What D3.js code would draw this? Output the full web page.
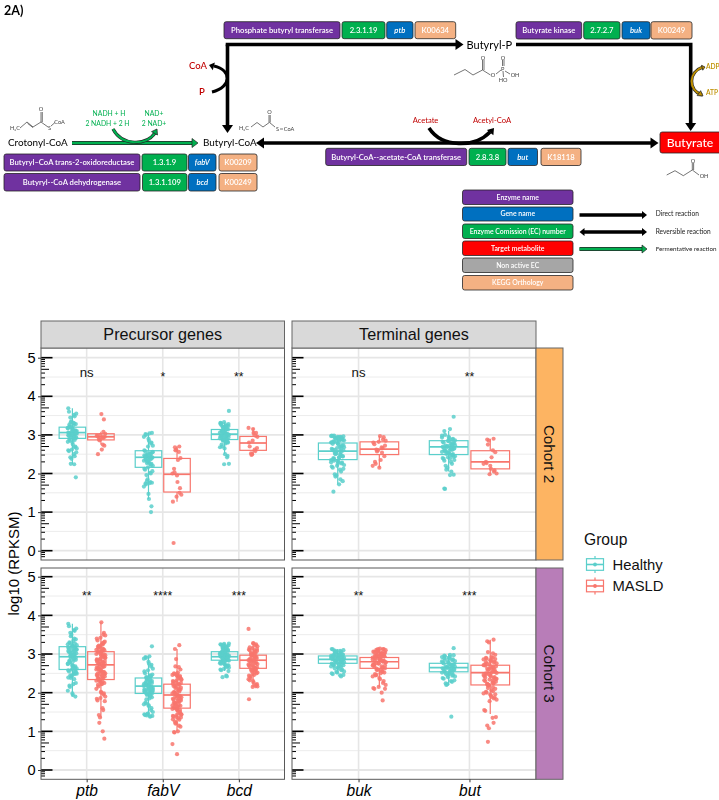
<!DOCTYPE html>
<html><head><meta charset="utf-8">
<style>html,body{margin:0;padding:0;background:#fff;overflow:hidden}svg{display:block}</style>
<script src="https://cdn.jsdelivr.net/npm/d3@7"></script></head><body><div id="c"></div>
<script>
// ---------- chart data ----------
const precursorGenes=["ptb","fabV","bcd"], terminalGenes=["buk","but"], groups=["Healthy","MASLD"];
const yTicks=[0,1,2,3,4,5];
// Cohort 2 sample values (log10 RPKSM)
const c2_ptb_H=[3.69,3.6,3.55,3.52,3.48,3.45,3.35,3.33,3.3,3.28,3.25,3.22,3.2,3.18,3.16,3.14,3.12,3.1,3.1,3.08,3.06,3.05,3.04,3.02,3.0,3.0,2.98,2.96,2.95,2.92,2.9,2.88,2.85,2.82,2.8,2.75,2.7,2.68,2.65,2.62,2.6,2.58,2.55,2.5,2.45,2.42,2.38,2.25,2.24,1.9,3.31,3.27,3.21,3.17,3.13,3.11,3.09,3.07,3.03,3.01,2.99,2.97,2.93,2.91,2.87];
const c2_ptb_M=[3.54,3.4,3.08,3.03,3.0,2.98,2.97,2.95,2.94,2.92,2.9,2.88,2.86,2.75,2.72,2.62,2.5];
const c2_fabV_H=[3.05,3.04,3.02,3.0,2.95,2.9,2.85,2.8,2.78,2.72,2.7,2.6,2.58,2.55,2.52,2.5,2.48,2.46,2.45,2.43,2.42,2.4,2.38,2.36,2.33,2.3,2.28,2.25,2.22,2.2,2.16,2.12,2.1,2.06,2.02,2.0,1.96,1.85,1.8,1.78,1.76,1.75,1.74,1.72,1.66,1.47,1.34,1.15,1.0,2.56,2.53,2.47,2.44,2.41,2.39,2.37,2.35,2.31,2.27,2.24];
const c2_fabV_M=[2.7,2.68,2.62,2.6,2.56,2.4,2.35,2.12,2.03,2.0,1.95,1.78,1.62,1.5,1.45,1.4,1.27,0.2];
const c2_bcd_H=[3.62,3.33,3.31,3.3,3.28,3.25,3.24,3.22,3.2,3.18,3.16,3.14,3.12,3.1,3.08,3.06,3.05,3.04,3.02,3.0,3.0,2.98,2.96,2.95,2.93,2.92,2.9,2.88,2.86,2.85,2.82,2.8,2.78,2.75,2.7,2.68,2.65,2.5,2.46,2.42,2.25,2.24,3.29,3.26,3.23,3.19,3.15,3.11,3.09,3.07,3.03,3.01,2.99,2.97,2.94,2.91,2.89,2.87,2.83,2.81];
const c2_bcd_M=[3.18,3.15,3.05,3.05,2.98,2.95,2.85,2.8,2.7,2.66,2.62,2.58,2.52,2.5,2.48];
const c2_buk_H=[2.98,2.97,2.96,2.95,2.94,2.93,2.92,2.9,2.88,2.87,2.85,2.83,2.82,2.8,2.78,2.75,2.72,2.7,2.68,2.66,2.64,2.62,2.6,2.58,2.56,2.54,2.52,2.5,2.48,2.45,2.42,2.4,2.38,2.35,2.32,2.3,2.28,2.26,2.22,2.2,2.18,2.15,2.12,2.1,2.05,1.98,1.95,1.92,1.85,1.8,1.72,1.53,2.98,2.97,2.95,2.93,2.91,2.89,2.86,2.84,2.81,2.77,2.73,2.69,2.65,2.61,2.57,2.53,2.49,2.44,2.41,2.37,2.33,2.29,2.25];
const c2_buk_M=[2.97,2.94,2.88,2.85,2.82,2.8,2.76,2.72,2.68,2.66,2.62,2.6,2.57,2.54,2.45,2.35,2.3,2.25,2.2,2.15];
const c2_but_H=[3.47,3.15,3.1,3.0,2.98,2.95,2.92,2.9,2.88,2.86,2.84,2.82,2.8,2.78,2.76,2.74,2.72,2.7,2.68,2.66,2.64,2.62,2.6,2.58,2.56,2.54,2.52,2.5,2.48,2.45,2.42,2.4,2.38,2.35,2.3,2.25,2.2,2.15,2.1,2.05,1.97,1.96,1.61,1.6,2.93,2.87,2.83,2.79,2.75,2.73,2.71,2.69,2.67,2.65,2.63,2.61,2.59,2.55,2.51,2.47,2.43,2.39,2.33];
const c2_but_M=[2.9,2.88,2.85,2.75,2.6,2.55,2.42,2.3,2.27,2.25,2.2,2.12,2.08,2.05,2.0,1.98];
// Cohort 3 sample values (log10 RPKSM)
const c3_ptb_H=[3.78,3.72,3.66,3.62,3.6,3.55,3.5,3.46,3.4,3.38,3.34,3.3,3.28,3.25,3.22,3.2,3.18,3.15,3.12,3.1,3.08,3.05,3.02,3.0,2.98,2.95,2.93,2.9,2.88,2.85,2.82,2.8,2.78,2.75,2.72,2.7,2.68,2.65,2.62,2.6,2.58,2.55,2.52,2.5,2.48,2.45,2.42,2.38,2.35,2.25,2.22,2.18,2.15,2.05,1.98,1.94,1.9,3.27,3.23,3.19,3.17,3.14,3.11,3.09,3.06,3.03,3.01,2.97,2.94,2.91,2.87,2.83,2.79,2.74,2.69,2.64,2.59,2.54,2.49,2.44,2.39];
const c3_ptb_M=[3.82,3.55,3.5,3.48,3.42,3.4,3.35,3.32,3.28,3.26,3.22,3.2,3.18,3.14,3.1,3.08,3.06,3.04,3.0,2.98,2.96,2.94,2.92,2.9,2.88,2.86,2.84,2.82,2.8,2.78,2.76,2.74,2.72,2.7,2.68,2.66,2.64,2.62,2.6,2.58,2.56,2.54,2.52,2.5,2.48,2.46,2.44,2.42,2.4,2.38,2.36,2.33,2.3,2.28,2.25,2.22,2.2,2.16,2.1,2.02,2.0,1.98,1.95,1.9,1.86,1.84,1.8,1.78,1.6,1.55,1.42,1.36,1.22,1.0,0.81,3.24,3.19,3.15,3.11,3.07,3.03,2.99,2.95,2.91,2.87,2.83,2.79,2.75,2.71,2.67,2.63,2.59,2.55,2.51,2.47,2.43,2.39,2.35,2.31,2.27,2.23,3.3,3.12,2.97,2.81,2.65,2.49];
const c3_fabV_H=[3.2,2.94,2.92,2.9,2.88,2.8,2.75,2.72,2.68,2.62,2.58,2.55,2.5,2.47,2.45,2.42,2.4,2.38,2.35,2.33,2.3,2.28,2.26,2.24,2.22,2.2,2.18,2.16,2.14,2.12,2.1,2.08,2.06,2.04,2.02,2.0,1.98,1.96,1.94,1.9,1.88,1.85,1.75,1.72,1.7,1.68,1.65,1.6,1.55,1.5,1.46,1.44,1.42,1.4,1.38,2.43,2.39,2.36,2.32,2.29,2.25,2.23,2.21,2.19,2.17,2.15,2.13,2.11,2.09,2.07,2.05,2.03,2.01,1.99,1.97,1.92,1.83,1.45,1.41,1.39];
const c3_fabV_M=[3.23,3.13,2.87,2.68,2.66,2.6,2.52,2.5,2.48,2.46,2.44,2.42,2.4,2.38,2.35,2.32,2.3,2.28,2.25,2.22,2.2,2.18,2.15,2.12,2.1,2.08,2.05,2.02,2.0,1.98,1.96,1.94,1.92,1.9,1.88,1.86,1.84,1.82,1.8,1.78,1.76,1.74,1.72,1.7,1.68,1.66,1.64,1.62,1.6,1.58,1.56,1.54,1.5,1.46,1.44,1.42,1.4,1.38,1.36,1.34,1.3,1.25,1.22,1.2,1.15,1.12,1.0,0.98,0.97,0.67,0.41,2.47,2.43,2.37,2.33,2.27,2.23,2.17,2.13,2.07,2.03,1.99,1.95,1.91,1.87,1.83,1.79,1.75,1.71,1.67,1.63,1.59,1.55,1.49,1.43,1.37,1.31];
const c3_bcd_H=[3.27,3.26,3.25,3.24,3.22,3.2,3.18,3.16,3.14,3.12,3.1,3.08,3.06,3.05,3.04,3.02,3.0,3.0,2.98,2.97,2.96,2.95,2.94,2.93,2.92,2.91,2.9,2.88,2.87,2.86,2.85,2.84,2.82,2.8,2.78,2.76,2.74,2.72,2.7,2.68,2.65,2.62,2.6,2.58,2.56,2.44,2.42,2.4,3.23,3.19,3.15,3.11,3.07,3.03,3.01,2.99,2.96,2.94,2.92,2.89,2.83,2.81,2.79,2.75,2.71,2.67];
const c3_bcd_M=[3.65,3.28,3.27,3.25,3.22,3.2,3.15,3.12,3.1,3.08,3.05,3.02,3.0,2.98,2.96,2.94,2.92,2.9,2.88,2.86,2.84,2.82,2.8,2.78,2.76,2.74,2.72,2.7,2.68,2.66,2.64,2.62,2.6,2.58,2.56,2.54,2.5,2.46,2.42,2.38,2.35,2.3,2.26,2.2,2.17,2.16,2.15,1.83,3.17,3.13,3.09,3.06,3.03,2.99,2.97,2.93,2.89,2.85,2.81,2.77,2.73,2.69,2.65,2.61,2.57,2.52,2.48,2.44,2.32,2.22];
const c3_buk_H=[3.13,3.12,3.1,3.08,3.06,3.05,3.04,3.02,3.0,2.99,2.98,2.97,2.96,2.95,2.94,2.93,2.92,2.91,2.9,2.89,2.88,2.87,2.86,2.85,2.84,2.83,2.82,2.8,2.78,2.76,2.74,2.72,2.7,2.68,2.65,2.62,2.6,2.58,2.55,2.52,2.5,2.48,2.46,2.45,2.42,3.09,3.07,3.03,3.01,2.98,2.96,2.94,2.92,2.9,2.88,2.86,2.84,2.81,2.79,2.77,2.75,2.73,2.71,2.69,2.67,2.63,2.54];
const c3_buk_M=[3.14,3.13,3.12,3.1,3.08,3.06,3.05,3.04,3.02,3.0,2.98,2.97,2.96,2.95,2.94,2.92,2.9,2.88,2.86,2.85,2.84,2.82,2.8,2.78,2.76,2.74,2.72,2.7,2.68,2.65,2.62,2.6,2.58,2.55,2.52,2.5,2.48,2.45,2.42,2.38,2.35,2.3,2.25,2.2,2.15,2.12,2.1,2.1,2.0,1.8,3.11,3.09,3.07,3.03,3.01,2.99,2.96,2.93,2.91,2.89,2.87,2.83,2.81,2.79,2.75,2.71,2.67,2.63,2.59,2.54,2.46,3.13,3.06,3.0,2.94,2.88,2.82,2.76,2.7];
const c3_but_H=[3.15,2.98,2.96,2.94,2.92,2.9,2.88,2.86,2.84,2.82,2.8,2.78,2.76,2.74,2.72,2.7,2.68,2.66,2.64,2.62,2.6,2.58,2.56,2.54,2.52,2.5,2.48,2.46,2.44,2.42,2.4,2.38,2.36,2.32,2.3,2.28,2.24,2.22,2.2,1.38,2.97,2.93,2.89,2.85,2.81,2.77,2.73,2.71,2.69,2.67,2.65,2.63,2.61,2.59,2.57,2.53,2.49,2.45];
const c3_but_M=[3.37,3.33,3.3,3.05,3.02,2.98,2.92,2.9,2.88,2.86,2.84,2.82,2.8,2.78,2.76,2.74,2.72,2.7,2.68,2.66,2.64,2.62,2.6,2.58,2.56,2.54,2.52,2.5,2.48,2.46,2.44,2.42,2.4,2.38,2.36,2.34,2.32,2.3,2.28,2.26,2.24,2.22,2.2,2.18,2.14,2.1,2.06,2.02,2.0,1.98,1.95,1.92,1.88,1.85,1.82,1.78,1.55,1.53,1.37,1.35,1.22,1.15,1.08,0.73,2.91,2.87,2.83,2.79,2.75,2.71,2.67,2.63,2.59,2.55,2.51,2.47,2.43,2.39,2.35,2.31,2.27,2.23,2.19,2.12,2.04,1.96,1.89];
// box statistics [low whisker, q1, median, q3, high whisker]
const stat_c2_ptb_H=[2.24,2.91,3.06,3.2,3.69],stat_c2_ptb_M=[2.75,2.87,2.95,3.03,3.08];
const stat_c2_fabV_H=[1.34,2.16,2.42,2.59,3.05],stat_c2_fabV_M=[1.27,1.52,1.98,2.39,2.7];
const stat_c2_bcd_H=[2.5,2.88,3.02,3.14,3.33],stat_c2_bcd_M=[2.48,2.6,2.79,2.96,3.18];
const stat_c2_buk_H=[1.72,2.36,2.58,2.79,2.98],stat_c2_buk_M=[2.15,2.49,2.63,2.82,2.97];
const stat_c2_but_H=[2.05,2.49,2.69,2.85,3.1],stat_c2_but_M=[1.98,2.12,2.3,2.59,2.9];
const stat_c3_ptb_H=[1.9,2.6,2.93,3.19,3.78],stat_c3_ptb_M=[1.35,2.34,2.72,3.06,3.82];
const stat_c3_fabV_H=[1.38,1.98,2.17,2.38,2.94],stat_c3_fabV_M=[1.0,1.6,1.94,2.22,3.13];
const stat_c3_bcd_H=[2.56,2.84,2.93,3.06,3.27],stat_c3_bcd_M=[2.15,2.63,2.84,2.97,3.28];
const stat_c3_buk_H=[2.48,2.76,2.86,2.95,3.13],stat_c3_buk_M=[2.15,2.63,2.8,2.91,3.14];
const stat_c3_but_H=[2.2,2.54,2.65,2.76,3.0],stat_c3_but_M=[1.45,2.2,2.52,2.71,3.37];
// significance labels
const sigC2=["ns","*","**","ns","**"], sigC3=["**","****","***","**","***"];
const sigLevel=4.6;
const cohorts=["Cohort 2","Cohort 3"], facets=["Precursor genes","Terminal genes"];

// ---------- palette ----------
const groupColor=d3.scaleOrdinal(groups,["#5bcfcb","#f8766d"]);
const C={purple:"#7030a0",green:"#00b050",blue:"#0070c0",red:"#ff0000",gray:"#a6a6a6",peach:"#f4b183",dred:"#c00000",gold:"#bf9000"};
const jitterCycle=[-.9,.35,-.2,.75,-.55,.1,.95,-.75,.5,-.35,.2,-1,.65,-.1,.85,-.45,.4,-.65,0,.55];

const W=719,H=800;
const svg=d3.select("#c").append("svg").attr("width",W).attr("height",H).attr("viewBox",[0,0,W,H]);
svg.append("defs").append("filter").attr("id","soft").attr("x","-5%").attr("y","-5%").attr("width","110%").attr("height","110%")
   .append("feGaussianBlur").attr("stdDeviation",.38);
const F="Lato, 'Open Sans', sans-serif", A="'Liberation Sans', Arial, sans-serif";

// ---------- pathway diagram ----------
const dg=svg.append("g").attr("filter","url(#soft)");
function pill(x0,x1,y0,y1,fill,label,opt={}){
  dg.append("rect").attr("x",x0).attr("y",y0).attr("width",x1-x0).attr("height",y1-y0).attr("rx",2.2)
    .attr("fill",fill).attr("stroke","#262626").attr("stroke-width",.8);
  dg.append("text").attr("x",opt.tx||(x0+x1)/2).attr("y",(y0+y1)/2).attr("dy","0.35em").attr("text-anchor","middle")
    .attr("fill","#fff").attr("font-family",F).attr("font-size",opt.size||7.7).attr("font-weight",opt.weight||600)
    .attr("font-style",opt.italic?"italic":"normal").text(label);
}
function label(x,y,t,fill,size,anchor="middle",weight=400){
  dg.append("text").attr("x",x).attr("y",y).attr("dy","0.35em").attr("text-anchor",anchor).attr("fill",fill)
    .attr("font-family",F).attr("font-size",size).attr("font-weight",weight).text(t);
}
function head(x,y,ang,fill,stroke,L=8,Wd=5.5){
  dg.append("path").attr("d",`M0,0L${-L},${-Wd}L${-L},${Wd}Z`).attr("transform",`translate(${x},${y}) rotate(${ang})`)
    .attr("fill",fill).attr("stroke",stroke||"none").attr("stroke-width",.7);
}
function line(pts,color,w){
  dg.append("path").attr("d",d3.line()(pts)).attr("fill","none").attr("stroke",color).attr("stroke-width",w);
}
function curve(d,color,w,outline){
  if(outline) dg.append("path").attr("d",d).attr("fill","none").attr("stroke",outline).attr("stroke-width",w+1.2);
  dg.append("path").attr("d",d).attr("fill","none").attr("stroke",color).attr("stroke-width",w);
}
label(4,10.5,"2A)","#000",12.5,"start",700);

pill(224,340,21.7,38.7,C.purple,"Phosphate butyryl transferase");
pill(342,385,21.7,38.7,C.green,"2.3.1.19");
pill(386.7,413,21.7,38.7,C.blue,"ptb",{italic:1});
pill(415,455.7,21.7,38.7,C.peach,"K00634");
pill(516,581.7,21.7,39,C.purple,"Butyrate kinase");
pill(583.7,620,21.7,39,C.green,"2.7.2.7");
pill(622,650,21.7,39,C.blue,"buk",{italic:1});
pill(651,692,21.7,39,C.peach,"K00249");
pill(4,140,154,171,C.purple,"Butyryl\u2013CoA trans-2-oxidoreductase");
pill(142,187,154,171,C.green,"1.3.1.9");
pill(188.5,216,154,171,C.blue,"fabV",{italic:1});
pill(219,257,154,171,C.peach,"K00209");
pill(4,140,173.5,191,C.purple,"Butyryl--CoA dehydrogenase");
pill(142.5,187,173.5,191,C.green,"1.3.1.109");
pill(188.5,216,173.5,191,C.blue,"bcd",{italic:1});
pill(219,257,173.5,191,C.peach,"K00249");
pill(325.7,466.7,148.3,165.5,C.purple,"Butyryl-CoA--acetate-CoA transferase");
pill(469,506,148.3,165.5,C.green,"2.8.3.8");
pill(508,537.5,148.3,165.5,C.blue,"but",{italic:1});
pill(541,581,148.3,165.5,C.peach,"K18118");
pill(660,722,132,153,C.red,"Butyrate",{size:12.2,weight:500,tx:690});

// main reaction arrows
line([[72,143],[192,143]],"#262626",4); line([[72,143],[192,143]],C.green,2.6); head(198,143,0,C.green,"#262626",6,4.5);
line([[262,143],[652,143]],"#000",3.6); head(256,143,180,"#000"); head(658.5,143,0,"#000");
line([[227.5,44.5],[227.5,126]],"#000",3.6); line([[225.7,44.5],[458,44.5]],"#000",3.6); head(227.5,133,90,"#000"); head(463.5,44.5,0,"#000");
line([[516,44.5],[690.7,44.5],[690.7,124]],"#000",3.6); head(690.7,131,90,"#000");

// cofactors
curve("M212,92 C232,87 232,70 214,66","#000",3); head(209,65,195,"#000",null,5,4);
curve("M113,129 C122,146 146,146 155,133",C.green,2,"#262626"); head(157,129,-60,C.green,"#262626",5,3.4);
curve("M429,128 C442,148 475,148 490,132","#000",3.6); head(494,128,-50,"#000",null,6,4.2);
curve("M703,67 C688,72 688,90 702,95",C.gold,2,"#262626"); head(705,67,-15,C.gold,"#262626",3,2.5); head(703,96,35,C.gold,"#262626",5,3);

label(8,143,"Crotonyl-CoA","#000",9.9,"start");
label(203,143,"Butyryl-CoA","#000",9.9,"start");
label(466.5,45.5,"Butyryl-P","#000",11,"start");
label(189,65.5,"CoA",C.dred,9.5,"start",500);
label(199,92,"P",C.dred,9.5,"start",600);
label(109,114,"NADH + H",C.green,6.8);
label(107.5,124,"2 NADH + 2 H",C.green,6.8);
label(154,114,"NAD+",C.green,6.8);
label(154,124,"2 NAD+",C.green,6.8);
label(425.5,120,"Acetate",C.dred,7.6);
label(492,120,"Acetyl-CoA",C.dred,7.6);
label(706,67,"ADP",C.gold,6.6,"start",600);
label(706,93,"ATP",C.gold,6.6,"start",600);

// skeletal structures
const bond="#3a3a3a";
function mol(pts){line(pts,bond,.7)}
mol([[20,128],[27,122],[33,127],[41,122]]); mol([[27.5,123.3],[33,127.6]]); mol([[41,122],[41,112]]); mol([[42.3,122],[42.3,112]]);mol([[41,122],[48,127]]); mol([[51,126],[55,122.5]]);
label(15,128,"H\u2083C",bond,5.6); label(41,109.5,"O",bond,5.6); label(49.5,128,"S",bond,5.6); label(59.5,122,"CoA",bond,5.6);
mol([[251,127],[257,122.5],[263,127],[269.3,122.5]]); mol([[269,122.5],[269,115]]); mol([[270.2,122.5],[270.2,115]]); mol([[269.5,122.5],[275,127]]); mol([[280,129],[283,129]]);
label(244,128.5,"H\u2083C",bond,5.6); label(269.5,112.5,"O",bond,5.6); label(277.5,129,"S",bond,5.6); label(289,129,"CoA",bond,5.6);
mol([[454,75],[465,69.5],[473,75],[482.5,70]]); mol([[482.5,70],[482.5,60]]); mol([[484,70],[484,60]]); mol([[482.5,70],[490.5,75]]);
mol([[496,74],[501,70]]); mol([[502.5,66],[502.5,60]]); mol([[504,66],[504,60]]); mol([[505,71],[510,74]]); mol([[503,71],[503.5,77]]);
label(483,58,"O",bond,5.6); label(493,75,"O",bond,5.6); label(502.8,69,"P",bond,5.6); label(503,58,"O",bond,5.6); label(515,75,"OH",bond,5.6); label(503,80.5,"HO",bond,5.6);
mol([[666.7,175],[675,170.7],[683.3,175.7],[692.3,170]]); mol([[692.3,170],[692.3,163]]); mol([[693.6,170],[693.6,163]]); mol([[692.3,170],[699,175]]);
label(693,160.7,"O",bond,5.6); label(704,176.5,"OH",bond,5.6);

// diagram key
const keyRows=[["Enzyme name",C.purple,190,204.5],["Gene name",C.blue,207,221],["Enzyme Comission (EC) number",C.green,224,238.5],["Target metabolite",C.red,241,255.5],["Non active EC",C.gray,258,272.5],["KEGG Orthology",C.peach,275.5,290]];
keyRows.forEach(r=>pill(462.5,573,r[2],r[3],r[1],r[0],{size:6.9}));
line([[579.5,215],[642,215]],"#000",3.4); head(647,215,0,"#000",null,5,4);
line([[584,232],[642,232]],"#000",3.4); head(579.5,232,180,"#000",null,5,4); head(647,232,0,"#000",null,5,4);
line([[579.5,249],[642,249]],"#262626",3.8); line([[579.5,249],[642,249]],C.green,2.4); head(647,249,0,C.green,"#262626",5,4);
label(655.7,213.5,"Direct reaction","#222",6.6,"start");
label(655.7,232,"Reversible reaction","#222",6.6,"start");
label(655.7,249,"Fermentative reaction","#222",6.3,"start");

// ---------- faceted box plots ----------
const row=[{cohort:0,top:348,bottom:560,y5:357.7,y0:550.7,sig:sigC2,fill:"#fdb462",ds:"c2"},
           {cohort:1,top:568,bottom:779.3,y5:576.7,y0:770,sig:sigC3,fill:"#b87db8",ds:"c3"}];
const col=[{facet:0,x0:41,x1:284.5,genes:precursorGenes,off:0},{facet:1,x0:292,x1:536,genes:terminalGenes,off:3}];
const dataset={c2:{ptb:[c2_ptb_H,c2_ptb_M],fabV:[c2_fabV_H,c2_fabV_M],bcd:[c2_bcd_H,c2_bcd_M],buk:[c2_buk_H,c2_buk_M],but:[c2_but_H,c2_but_M]},
               c3:{ptb:[c3_ptb_H,c3_ptb_M],fabV:[c3_fabV_H,c3_fabV_M],bcd:[c3_bcd_H,c3_bcd_M],buk:[c3_buk_H,c3_buk_M],but:[c3_but_H,c3_but_M]}};
const stats={c2:{ptb:[stat_c2_ptb_H,stat_c2_ptb_M],fabV:[stat_c2_fabV_H,stat_c2_fabV_M],bcd:[stat_c2_bcd_H,stat_c2_bcd_M],buk:[stat_c2_buk_H,stat_c2_buk_M],but:[stat_c2_but_H,stat_c2_but_M]},
             c3:{ptb:[stat_c3_ptb_H,stat_c3_ptb_M],fabV:[stat_c3_fabV_H,stat_c3_fabV_M],bcd:[stat_c3_bcd_H,stat_c3_bcd_M],buk:[stat_c3_buk_H,stat_c3_buk_M],but:[stat_c3_but_H,stat_c3_but_M]}};
const plot=svg.append("g");
const minorPos=d3.range(-1,6).flatMap(d=>[2,3,4,5,6,7,8,9].map(m=>({v:d+Math.log10(m),m})));

row.forEach(R=>{
  const y=d3.scaleLinear().domain([0,5]).range([R.y0,R.y5]);
  col.forEach(Cn=>{
    const w=Cn.x1-Cn.x0;
    const x=d3.scalePoint().domain(Cn.genes).range([Cn.x0,Cn.x1]).padding(.6);
    const step=x.step(), dodge=d3.scaleBand().domain(groups).range([-step*.375,step*.375]);
    const jw=step*.06;
    const g=plot.append("g");
    g.append("rect").attr("x",Cn.x0).attr("y",R.top).attr("width",w).attr("height",R.bottom-R.top).attr("fill","#fff");
    // grid
    const minor=d3.range(0,5).map(d=>d+.5);
    g.selectAll(".mn").data(minor).join("line").attr("x1",Cn.x0).attr("x2",Cn.x1).attr("y1",y).attr("y2",y).attr("stroke","#ececec").attr("stroke-width",1);
    g.selectAll(".mj").data(yTicks).join("line").attr("x1",Cn.x0).attr("x2",Cn.x1).attr("y1",y).attr("y2",y).attr("stroke","#e6e6e6").attr("stroke-width",1.8);
    g.selectAll(".vg").data(Cn.genes).join("line").attr("x1",x).attr("x2",x).attr("y1",R.top).attr("y2",R.bottom).attr("stroke","#e6e6e6").attr("stroke-width",1.6);
    // log ticks
    const inRange=v=>y(v)>R.top+1&&y(v)<R.bottom-1;
    const ticks=[...yTicks.map(v=>({v,len:11.5,sw:1.6})),...minorPos.filter(d=>inRange(d.v)).map(d=>({v:d.v,len:d.m===5?8:4,sw:1}))];
    g.selectAll(".lt").data(ticks).join("line").attr("x1",Cn.x0).attr("x2",d=>Cn.x0+d.len).attr("y1",d=>y(d.v)).attr("y2",d=>y(d.v)).attr("stroke","#000").attr("stroke-width",d=>d.sw);
    // boxes and points
    Cn.genes.forEach((gene,gi)=>{
      const xc=x(gene);
      groups.forEach((grp,k)=>{
        const cx=xc+dodge(grp)+dodge.bandwidth()/2, bw=dodge.bandwidth()*.93, col_=groupColor(grp);
        const s=stats[R.ds][gene][k], vals=dataset[R.ds][gene][k];
        const bx=g.append("g").attr("stroke",col_).attr("fill","none").attr("stroke-width",1.2);
        bx.append("line").attr("x1",cx).attr("x2",cx).attr("y1",y(s[0])).attr("y2",y(s[1]));
        bx.append("line").attr("x1",cx).attr("x2",cx).attr("y1",y(s[3])).attr("y2",y(s[4]));
        bx.append("rect").attr("x",cx-bw/2).attr("width",bw).attr("y",y(s[3])).attr("height",y(s[1])-y(s[3]));
        bx.append("line").attr("x1",cx-bw/2).attr("x2",cx+bw/2).attr("y1",y(s[2])).attr("y2",y(s[2])).attr("stroke-width",1.7);
        g.selectAll(null).data(vals).join("circle").attr("cx",(d,i)=>cx+jitterCycle[(i*7+gi*3+k*5)%jitterCycle.length]*jw).attr("cy",d=>y(d)).attr("r",2.1).attr("fill",col_).attr("fill-opacity",.85);
      });
      const sl=R.sig[gi+Cn.off];
      g.append("text").attr("x",xc).attr("y",y(sigLevel)).attr("dy",sl==="ns"?"0.3em":"0.62em").attr("text-anchor","middle")
       .attr("font-family",A).attr("font-size",sl==="ns"?13.2:12.2).attr("fill","#111").text(sl);
    });
    // border
    g.append("rect").attr("x",Cn.x0).attr("y",R.top).attr("width",w).attr("height",R.bottom-R.top).attr("fill","none").attr("stroke","#595959").attr("stroke-width",1);
    // outside left axis for the left column
    if(Cn.facet===0){
      const ax=g.append("g").attr("transform",`translate(${Cn.x0},0)`).call(d3.axisLeft(y).tickValues(yTicks).tickFormat(d3.format("d")).tickSize(3).tickPadding(2.5));
      ax.select(".domain").remove();
      ax.selectAll("line").attr("stroke","#333");
      ax.selectAll("text").attr("font-family",A).attr("font-size",14.6).attr("fill","#000");
    }
    // bottom axis for the lower row
    if(R.cohort===1){
      const ax=g.append("g").attr("transform",`translate(0,${R.bottom})`).call(d3.axisBottom(x).tickSize(3).tickPadding(3));
      ax.select(".domain").remove();
      ax.selectAll("line").attr("stroke","#333");
      ax.selectAll("text").attr("font-family",A).attr("font-size",15.6).attr("font-style","italic").attr("fill","#000");
    }
  });
  // cohort strip
  plot.append("rect").attr("x",536).attr("y",R.top).attr("width",27).attr("height",R.bottom-R.top).attr("fill",R.fill).attr("stroke","#666").attr("stroke-width",1);
  plot.append("text").attr("transform",`translate(549.5,${(R.top+R.bottom)/2}) rotate(90)`).attr("text-anchor","middle").attr("dy","0.35em")
      .attr("font-family",A).attr("font-size",15.2).attr("fill","#111").text(cohorts[R.cohort]);
});
// facet strips
col.forEach(Cn=>{
  plot.append("rect").attr("x",Cn.x0).attr("y",321).attr("width",Cn.x1-Cn.x0).attr("height",27).attr("fill","#d9d9d9").attr("stroke","#666").attr("stroke-width",1);
  plot.append("text").attr("x",(Cn.x0+Cn.x1)/2).attr("y",334.5).attr("dy","0.35em").attr("text-anchor","middle").attr("font-family",A).attr("font-size",16.2).attr("fill","#111").text(facets[Cn.facet]);
});
// y title
plot.append("text").attr("transform","translate(14,563.5) rotate(-90)").attr("dy","0.35em").attr("text-anchor","middle").attr("font-family",A).attr("font-size",15).attr("fill","#000").text("log10 (RPKSM)");
// legend
plot.append("text").attr("x",584).attr("y",544.5).attr("font-family",A).attr("font-size",15.6).attr("fill","#111").text("Group");
const legendY=d3.scalePoint().domain(groups).range([564.5,586]);
groups.forEach(grp=>{
  const cy=legendY(grp), c=groupColor(grp), l=plot.append("g").attr("stroke",c).attr("fill","none").attr("stroke-width",1.2);
  l.append("line").attr("x1",595).attr("x2",595).attr("y1",cy-8.5).attr("y2",cy+8.5);
  l.append("rect").attr("x",586.5).attr("y",cy-5.8).attr("width",17).attr("height",11.6).attr("fill","#fff");
  l.append("line").attr("x1",586.5).attr("x2",603.5).attr("y1",cy).attr("y2",cy).attr("stroke-width",1.6);
  plot.append("circle").attr("cx",595).attr("cy",cy).attr("r",1.9).attr("fill",c);
  plot.append("text").attr("x",612.5).attr("y",cy).attr("dy","0.35em").attr("font-family",A).attr("font-size",14.8).attr("fill","#111").text(grp);
});
</script></body></html>
